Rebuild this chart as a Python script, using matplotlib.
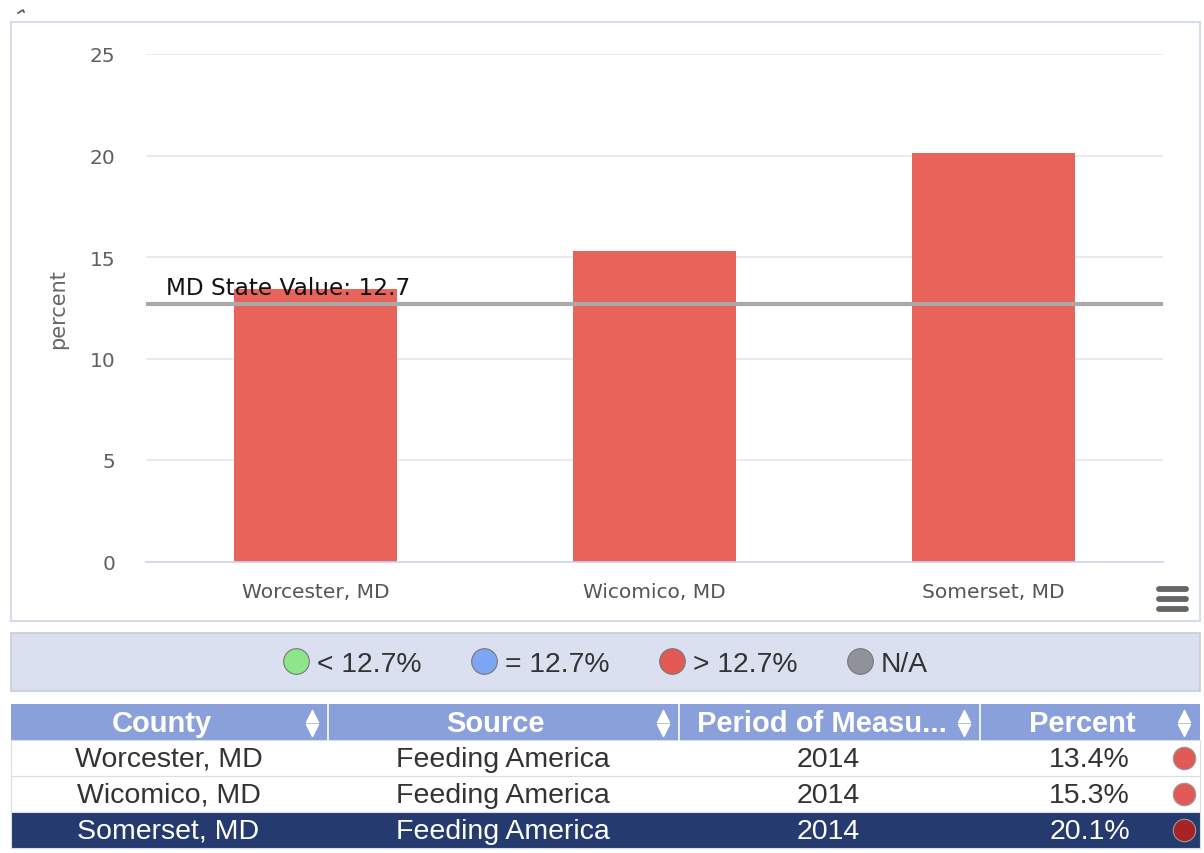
import matplotlib
matplotlib.use("Agg")
import matplotlib.pyplot as plt
from matplotlib.patches import Rectangle

# ---- data ----
counties = ["Worcester, MD", "Wicomico, MD", "Somerset, MD"]
values = [13.4, 15.3, 20.1]
state_value = 12.7
state_label = "MD State Value: 12.7"
yticks = [0, 5, 10, 15, 20, 25]
legend_labels = ["< 12.7%", "= 12.7%", "> 12.7%", "N/A"]
legend_colors = ["#8ee68a", "#7ea6f2", "#e25a55", "#8f9299"]
headers = ["County", "Source", "Period of Measu...", "Percent"]
sources = ["Feeding America", "Feeding America", "Feeding America"]
periods = ["2014", "2014", "2014"]
percent_labels = ["13.4%", "15.3%", "20.1%"]
dot_colors = ["#e25a55", "#e25a55", "#a82424"]

BAR = "#e8635a"
W, H = 1204, 854
fig = plt.figure(figsize=(W / 100, H / 100), dpi=100)

# background axes in pixel coords
bg = fig.add_axes([0, 0, 1, 1])
bg.set_xlim(0, W)
bg.set_ylim(H, 0)
bg.axis("off")

# chart panel border
bg.add_patch(Rectangle((11, 23), 1189, 599, facecolor="white", edgecolor="#d5dcef", lw=1.5))
bg.plot([18, 23, 24], [14, 11, 13], color="#555555", lw=1.2)

# menu icon
for yy in [590, 600, 610]:
    bg.plot([1159, 1186], [yy, yy], color="#666666", lw=4.2, solid_capstyle="round")

# main plot axes
ax = fig.add_axes([146 / W, 1 - 562.5 / H, 1017 / W, 507.5 / H])
x = list(range(len(counties)))
ax.bar(x, values, width=0.478, color=BAR, zorder=2)
ax.set_xlim(-0.5, 2.5)
ax.set_ylim(0, 25)
ax.set_yticks(yticks)
ax.set_yticklabels([str(t) for t in yticks])
ax.set_xticks(x)
ax.set_xticklabels(counties)
ax.grid(axis="y", color="#e6e6e6", lw=1.2, zorder=0)
ax.set_axisbelow(True)
for s in ["top", "right", "left"]:
    ax.spines[s].set_visible(False)
ax.spines["bottom"].set_color("#ccd6eb")
ax.spines["bottom"].set_linewidth(1.2)
ax.tick_params(axis="y", length=0, pad=22, labelsize=14.5, labelcolor="#606060")
ax.tick_params(axis="x", length=0, pad=15, labelsize=14.5, labelcolor="#555555")
for lab in ax.get_yticklabels() + ax.get_xticklabels():
    lab.set_fontfamily("DejaVu Sans")
ax.set_ylabel("percent", fontsize=15, color="#666666", family="DejaVu Sans")
ax.yaxis.set_label_coords(-0.0767, 0.5)
ax.axhline(state_value, color="#aaaaaa", lw=3, zorder=3)
ax.text(-0.44, state_value + 0.25, state_label, fontsize=16.7, color="#111111",
        family="DejaVu Sans", zorder=4, va="bottom")

# legend panel
bg.add_patch(Rectangle((11, 634), 1189, 58, facecolor="#dae0f0", edgecolor="#c8ccd6", lw=1.2))
leg_x = [296, 484, 672, 860]
for lx, lab, col in zip(leg_x, legend_labels, legend_colors):
    bg.scatter([lx], [662], s=340, color=col, edgecolors="#777777", linewidths=0.8, zorder=5)
    bg.text(lx + 21, 665, lab, fontsize=20.3, color="#333333", va="center", ha="left",
            family="Liberation Sans")

# table
col_edges = [11, 328, 679, 980, 1200]
row_h = 36
hdr_top = 705
bg.add_patch(Rectangle((11, hdr_top), 1189, row_h, facecolor="#8aa0da", edgecolor="none"))
for i, h in enumerate(headers):
    x0, x1 = col_edges[i], col_edges[i + 1]
    bg.text((x0 + x1) / 2 - 8, hdr_top + row_h / 2 + 1, h, fontsize=21, color="white",
            fontweight="bold", ha="center", va="center", family="Liberation Sans")
    ax_ = x1 - 16
    bg.scatter([ax_], [hdr_top + 12], marker="^", s=75, color="white", zorder=5)
    bg.scatter([ax_], [hdr_top + 26], marker="v", s=75, color="white", zorder=5)
    if i > 0:
        bg.plot([x0, x0], [hdr_top, hdr_top + row_h], color="#ffffff", lw=1.2)

for r in range(len(counties)):
    top = hdr_top + row_h * (r + 1)
    sel = r == len(counties) - 1
    face = "#253a6e" if sel else "white"
    tc = "white" if sel else "#333333"
    bg.add_patch(Rectangle((11, top), 1189, row_h, facecolor=face,
                           edgecolor="#d8dde8", lw=0.8))
    cy = top + row_h / 2 + 1
    bg.text((col_edges[0] + col_edges[1]) / 2 - 1, cy, counties[r], fontsize=20.5, color=tc,
            ha="center", va="center", family="Liberation Sans")
    bg.text((col_edges[1] + col_edges[2]) / 2 - 1, cy, sources[r], fontsize=20.5, color=tc,
            ha="center", va="center", family="Liberation Sans")
    bg.text((col_edges[2] + col_edges[3]) / 2 - 1, cy, periods[r], fontsize=20.5, color=tc,
            ha="center", va="center", family="Liberation Sans")
    bg.text(1130, cy, percent_labels[r], fontsize=20.5, color=tc,
            ha="right", va="center", family="Liberation Sans")
    bg.scatter([1184], [top + row_h / 2], s=260, color=dot_colors[r],
               edgecolors="#999999", linewidths=0.8, zorder=5)

fig.savefig("out.png", dpi=100)
